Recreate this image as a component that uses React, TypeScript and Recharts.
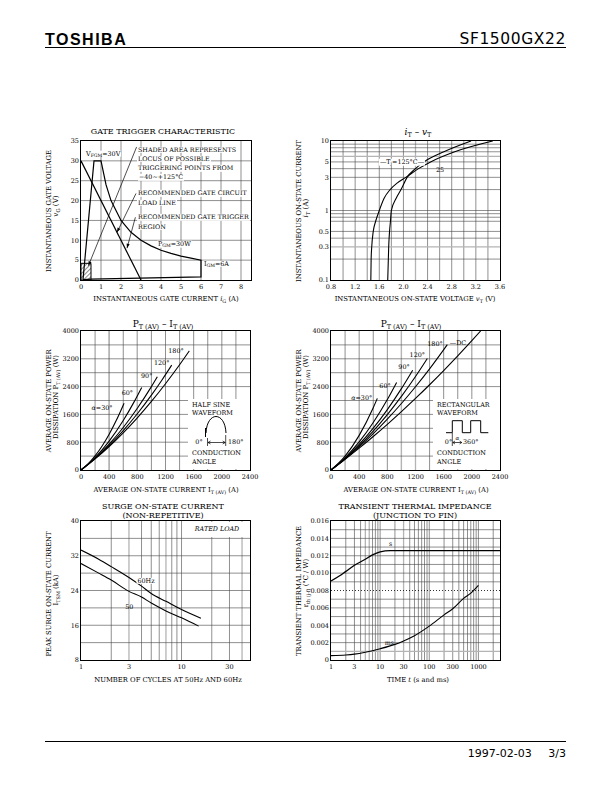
import React from 'react';
import { LineChart, Line, XAxis, YAxis, ReferenceLine, ReferenceArea, ReferenceDot } from 'recharts';

const SERIF = '"DejaVu Serif", "Liberation Serif", serif';
const SANS = '"DejaVu Sans", "Liberation Sans", sans-serif';
const GRID = '#444';
const GRAY = '#b4b4b4';

// ---------- 1. Gate trigger characteristic ----------
const gateXTicks = [0, 1, 2, 3, 4, 5, 6, 7, 8];
const gateYTicks = [0, 5, 10, 15, 20, 25, 30, 35];
const gateGridX = [1, 2, 3, 4, 5, 6, 7, 8];
const gateGridY = [5, 10, 15, 20, 25, 30];
const gateBoundary = [
  { x: 0.1, y: 0.1 }, { x: 0.65, y: 30 }, { x: 1.0, y: 30 }, { x: 1.25, y: 24 }, { x: 1.5, y: 20 },
  { x: 2.0, y: 15 }, { x: 2.5, y: 12 }, { x: 3.0, y: 10 }, { x: 3.5, y: 8.6 }, { x: 4.0, y: 7.5 },
  { x: 4.5, y: 6.7 }, { x: 5.0, y: 6.0 }, { x: 5.5, y: 5.5 }, { x: 6.0, y: 5.0 }, { x: 6.0, y: 0.8 },
  { x: 0.5, y: 0.2 }, { x: 0.1, y: 0.1 },
];
const gateLoadLine = [{ x: 0, y: 30 }, { x: 3, y: 0 }];
const gateLeaders = [
  [{ x: 2.78, y: 33.5 }, { x: 0.37, y: 3.6 }],
  [{ x: 2.75, y: 21.8 }, { x: 1.8, y: 12 }],
  [{ x: 2.72, y: 15.8 }, { x: 2.3, y: 8 }],
];
const gateArrowAngles = [112, 116, 105];

// ---------- 2. iT - vT ----------
const ivXTicks = [0.8, 1.2, 1.6, 2.0, 2.4, 2.8, 3.2, 3.6];
const ivYTicks = [0.1, 0.3, 0.5, 1, 3, 5, 10];
const ivGridX = [1.0, 1.2, 1.4, 1.6, 1.8, 2.0, 2.4, 2.6, 2.8, 3.0, 3.2, 3.4];
const ivGrayX = [2.2];
const ivGridY = [0.2, 0.4, 0.5, 0.7, 0.8, 0.9, 1, 2, 3, 4, 5, 7, 8, 9];
const ivGrayY = [0.3, 6];
const ivCurveA = [
  { x: 1.46, y: 0.1 }, { x: 1.465, y: 0.2 }, { x: 1.475, y: 0.3 }, { x: 1.5, y: 0.5 }, { x: 1.54, y: 0.7 },
  { x: 1.6, y: 1.0 }, { x: 1.68, y: 1.5 }, { x: 1.78, y: 2.0 }, { x: 1.9, y: 2.5 }, { x: 2.04, y: 3.0 },
  { x: 2.25, y: 4.0 }, { x: 2.45, y: 5.0 }, { x: 2.85, y: 7.0 }, { x: 3.48, y: 10 },
];
const ivCurveB = [
  { x: 1.74, y: 0.1 }, { x: 1.75, y: 0.2 }, { x: 1.756, y: 0.3 }, { x: 1.77, y: 0.5 }, { x: 1.785, y: 0.7 },
  { x: 1.8, y: 1.0 }, { x: 1.88, y: 1.5 }, { x: 1.96, y: 2.0 }, { x: 2.06, y: 3.0 }, { x: 2.2, y: 4.0 },
  { x: 2.34, y: 5.0 }, { x: 2.67, y: 7.0 }, { x: 3.12, y: 10 },
];

// ---------- 3./4. PT(AV) - IT(AV) ----------
const pXTicks = [0, 400, 800, 1200, 1600, 2000, 2400];
const pYTicks = [0, 800, 1600, 2400, 3200, 4000];
const pGridX = [200, 400, 600, 800, 1000, 1200, 1400, 1600, 1800, 2000, 2200];
const pGridY = [400, 800, 1200, 1600, 2000, 2400, 2800, 3200, 3600];
const sineGrayX = [400, 800];
const rectGrayX = [1000, 1200];
const sine30 = [{ x: 0, y: 0 }, { x: 100, y: 177 }, { x: 200, y: 408 }, { x: 300, y: 692 }, { x: 400, y: 1030 }, { x: 500, y: 1422 }, { x: 611, y: 1919 }];
const sine60 = [{ x: 0, y: 0 }, { x: 200, y: 358 }, { x: 400, y: 833 }, { x: 600, y: 1425 }, { x: 750, y: 1946 }, { x: 862, y: 2377 }];
const sine90 = [{ x: 0, y: 0 }, { x: 200, y: 336 }, { x: 400, y: 744 }, { x: 600, y: 1224 }, { x: 800, y: 1776 }, { x: 1000, y: 2400 }, { x: 1084, y: 2683 }];
const sine120 = [{ x: 0, y: 0 }, { x: 200, y: 326 }, { x: 400, y: 705 }, { x: 600, y: 1135 }, { x: 800, y: 1619 }, { x: 1000, y: 2154 }, { x: 1150, y: 2590 }, { x: 1288, y: 3017 }];
const sine180 = [{ x: 0, y: 0 }, { x: 200, y: 319 }, { x: 400, y: 676 }, { x: 600, y: 1071 }, { x: 800, y: 1503 }, { x: 1000, y: 1974 }, { x: 1200, y: 2483 }, { x: 1400, y: 3029 }, { x: 1538, y: 3427 }];
const rect30 = [{ x: 0, y: 0 }, { x: 200, y: 399 }, { x: 400, y: 997 }, { x: 600, y: 1794 }, { x: 658, y: 2062 }];
const rect60 = [{ x: 0, y: 0 }, { x: 200, y: 352 }, { x: 400, y: 807 }, { x: 600, y: 1365 }, { x: 800, y: 2027 }, { x: 932, y: 2520 }];
const rect90 = [{ x: 0, y: 0 }, { x: 200, y: 334 }, { x: 400, y: 735 }, { x: 600, y: 1203 }, { x: 800, y: 1739 }, { x: 1000, y: 2342 }, { x: 1160, y: 2873 }];
const rect120 = [{ x: 0, y: 0 }, { x: 200, y: 325 }, { x: 400, y: 699 }, { x: 600, y: 1122 }, { x: 800, y: 1596 }, { x: 1000, y: 2118 }, { x: 1200, y: 2690 }, { x: 1368, y: 3208 }];
const rect180 = [{ x: 0, y: 0 }, { x: 200, y: 317 }, { x: 400, y: 666 }, { x: 600, y: 1049 }, { x: 800, y: 1465 }, { x: 1000, y: 1914 }, { x: 1200, y: 2396 }, { x: 1400, y: 2911 }, { x: 1652, y: 3609 }];
const rectDC = [{ x: 0, y: 0 }, { x: 200, y: 307 }, { x: 400, y: 629 }, { x: 600, y: 965 }, { x: 800, y: 1315 }, { x: 1000, y: 1680 }, { x: 1200, y: 2059 }, { x: 1400, y: 2453 }, { x: 1600, y: 2861 }, { x: 1800, y: 3283 }, { x: 2000, y: 3720 }, { x: 2125, y: 4000 }];

// ---------- 5. Surge on-state current ----------
const sXTicks = [1, 3, 10, 30];
const sYTicks = [8, 16, 24, 32, 40];
const sGridX = [2, 4, 5, 6, 8, 9, 10, 20, 30];
const sGrayX = [3, 7, 40];
const sGridY = [12, 16, 20, 24, 28, 32, 36];
const surge60 = [{ x: 1, y: 33.3 }, { x: 1.5, y: 31.2 }, { x: 2, y: 29.5 }, { x: 3, y: 27.0 }, { x: 4, y: 25.0 }, { x: 5, y: 23.3 }, { x: 7, y: 21.5 }, { x: 10, y: 19.6 }, { x: 15.6, y: 17.6 }];
const surge50 = [{ x: 1, y: 30.2 }, { x: 1.5, y: 28.0 }, { x: 2, y: 26.4 }, { x: 3, y: 23.8 }, { x: 4, y: 22.5 }, { x: 5, y: 21.1 }, { x: 7, y: 19.3 }, { x: 10, y: 17.7 }, { x: 14.8, y: 15.8 }];

// ---------- 6. Transient thermal impedance ----------
const tXTicks = [1, 3, 10, 30, 100, 300, 1000];
const tYTicks = [0, 0.002, 0.004, 0.006, 0.008, 0.01, 0.012, 0.014, 0.016];
const tGridX = [2, 3, 4, 7, 8, 9, 10, 20, 40, 50, 60, 70, 80, 90, 100, 200, 300, 400, 500, 600, 700, 800, 900, 1000, 2000];
const tGrayX = [5, 6, 30];
const tGridY = [0.002, 0.003, 0.004, 0.005, 0.006, 0.007, 0.009, 0.01, 0.011, 0.012, 0.013, 0.014, 0.015];
const tGrayY = [0.001];
const thermS = [{ x: 1, y: 0.0091 }, { x: 1.5, y: 0.0097 }, { x: 2, y: 0.0102 }, { x: 3, y: 0.0109 }, { x: 5, y: 0.0116 }, { x: 7, y: 0.0121 }, { x: 10, y: 0.01245 }, { x: 16, y: 0.0126 }, { x: 2750, y: 0.0126 }];
const thermMs = [{ x: 1, y: 0.0005 }, { x: 2, y: 0.00058 }, { x: 3, y: 0.00068 }, { x: 5, y: 0.0009 }, { x: 10, y: 0.0013 }, { x: 20, y: 0.0018 }, { x: 30, y: 0.0022 }, { x: 50, y: 0.0028 }, { x: 100, y: 0.0039 }, { x: 200, y: 0.0052 }, { x: 300, y: 0.0059 }, { x: 500, y: 0.0071 }, { x: 700, y: 0.0077 }, { x: 1000, y: 0.0086 }];

// ---------- layout ----------
const ML = 40, MT = 6, MR = 16, MB = 16;
const F1 = { l: 81, t: 141, w: 170, h: 139 };
const F2 = { l: 331, t: 141, w: 169, h: 139 };
const F3 = { l: 81, t: 331, w: 169, h: 139 };
const F4 = { l: 331, t: 331, w: 169, h: 139 };
const F5 = { l: 81, t: 521, w: 169, h: 139 };
const F6 = { l: 331, t: 521, w: 169, h: 139 };

const tick = { fontSize: 6.5, fill: '#000', fontFamily: SERIF };
const AX = 6.8; // axis title size
const AN = 6.4; // annotation size

function Plot({ f, xd, yd, xt, yt, xs = 'linear', ys = 'linear', xf, yf, children }: any) {
  return (
    <div style={{ position: 'absolute', left: f.l - ML, top: f.t - MT }}>
      <LineChart width={f.w + ML + MR} height={f.h + MT + MB} margin={{ top: MT, right: MR, bottom: 0, left: 0 }}>
        <XAxis type="number" dataKey="x" scale={xs} domain={xd} ticks={xt} interval={0} allowDataOverflow height={MB}
          tickLine={false} axisLine={false} tickSize={4} tickMargin={0} tick={tick} tickFormatter={xf} />
        <YAxis type="number" scale={ys} domain={yd} ticks={yt} interval={0} allowDataOverflow width={ML}
          tickLine={false} axisLine={false} tickSize={2} tickMargin={0} tick={tick} tickFormatter={yf} />
        {children}
      </LineChart>
    </div>
  );
}

const vl = (xs: number[], c = GRID, w = 0.6) => xs.map((v) => <ReferenceLine key={'v' + v + c} x={v} stroke={c} strokeWidth={w} ifOverflow="hidden" />);
const hl = (ys: number[], c = GRID, w = 0.6, dash?: string) => ys.map((v) => <ReferenceLine key={'h' + v + c} y={v} stroke={c} strokeWidth={w} strokeDasharray={dash} ifOverflow="hidden" />);
const curve = (d: any[], key: string, type: any = 'monotone', w = 1.1) => (
  <Line key={key} data={d} dataKey="y" type={type} stroke="#000" strokeWidth={w} dot={false} activeDot={false} isAnimationActive={false} />
);
const arrowShape = (angle: number) => (p: any) => (
  <path d="M0,0 L-4.5,-1.6 L-4.5,1.6 Z" fill="#000" transform={`translate(${p.cx},${p.cy}) rotate(${angle})`} />
);

const Sub = ({ children }: any) => <span style={{ fontSize: '0.72em', position: 'relative', top: '0.32em' }}>{children}</span>;
const It = ({ children }: any) => <span style={{ fontStyle: 'italic' }}>{children}</span>;

function T({ x, y, size = AN, anchor = 'middle', rot, bg, children, family = SERIF, weight, spacing, italic }: any) {
  const tx = anchor === 'middle' ? '-50%' : anchor === 'end' ? '-100%' : '0';
  return (
    <div style={{
      position: 'absolute', left: x, top: y, fontFamily: family, fontSize: size, lineHeight: 1, whiteSpace: 'nowrap',
      transform: `translate(${tx},-50%)${rot ? ' rotate(-90deg)' : ''}`, background: bg ? '#fff' : undefined,
      padding: bg ? '0 1px' : undefined, color: '#000', fontWeight: weight, letterSpacing: spacing, fontStyle: italic ? 'italic' : undefined,
    }}>{children}</div>
  );
}

const Frame = ({ f }: any) => (
  <div style={{ position: 'absolute', left: f.l - 0.6, top: f.t - 0.6, width: f.w + 1.2, height: f.h + 1.2, border: '1.2px solid #000', boxSizing: 'border-box' }} />
);
const White = ({ l, t, r, b }: any) => <div style={{ position: 'absolute', left: l, top: t, width: r - l, height: b - t, background: '#fff' }} />;

const fmt1 = (v: number) => v.toFixed(1);
const fmtT = (v: number) => (v === 0 ? '0' : v.toFixed(3));

export default function App() {
  return (
    <div style={{ position: 'absolute', left: 0, top: 0, width: 612, height: 792, background: '#fff', overflow: 'hidden' }}>
      <svg width={0} height={0} style={{ position: 'absolute' }}>
        <defs>
          <pattern id="hatch" width="3" height="3" patternUnits="userSpaceOnUse" patternTransform="rotate(45)">
            <line x1="0" y1="0" x2="0" y2="3" stroke="#000" strokeWidth="0.9" />
          </pattern>
        </defs>
      </svg>

      {/* header */}
      <T x={45} y={40} anchor="start" family='"Liberation Sans", sans-serif' size={16} weight={900} spacing={1.5}>TOSHIBA</T>
      <T x={566} y={40} anchor="end" family={SANS} size={15.5} spacing={0.6}>SF1500GX22</T>
      <div style={{ position: 'absolute', left: 45, top: 46.5, width: 521, height: 1.3, background: '#000' }} />

      {/* 1. gate trigger */}
      <Plot f={F1} xd={[0, 8.5]} yd={[0, 35]} xt={gateXTicks} yt={gateYTicks}>
        {vl(gateGridX)}
        {hl(gateGridY)}
        <ReferenceArea x1={0} x2={0.5} y1={0} y2={4.2} fill="url(#hatch)" fillOpacity={1} stroke="#000" strokeWidth={1} />
        {curve(gateBoundary, 'gb', 'linear', 1.2)}
        {curve(gateLoadLine, 'gl', 'linear', 1.2)}
        {gateLeaders.map((s, i) => (
          <ReferenceLine key={'ld' + i} segment={s} stroke="#000" strokeWidth={0.7} ifOverflow="visible" />
        ))}
        {gateLeaders.map((s, i) => (
          <ReferenceDot key={'ar' + i} x={s[1].x} y={s[1].y} r={2} ifOverflow="visible" shape={arrowShape(gateArrowAngles[i])} />
        ))}
      </Plot>

      {/* 2. iT - vT */}
      <Plot f={F2} xd={[0.8, 3.6]} yd={[0.1, 10]} ys="log" xt={ivXTicks} yt={ivYTicks} xf={fmt1}>
        {vl(ivGridX)}
        {vl(ivGrayX, GRAY, 1.3)}
        {hl(ivGridY)}
        {hl(ivGrayY, GRAY, 1.3)}
        {curve(ivCurveA, 'ivA')}
        {curve(ivCurveB, 'ivB')}
      </Plot>

      {/* 3. sine */}
      <Plot f={F3} xd={[0, 2400]} yd={[0, 4000]} xt={pXTicks} yt={pYTicks}>
        {vl(pGridX)}
        {vl(sineGrayX, GRAY, 1.3)}
        {hl(pGridY)}
        {curve(sine30, 's30')}
        {curve(sine60, 's60')}
        {curve(sine90, 's90')}
        {curve(sine120, 's120')}
        {curve(sine180, 's180')}
      </Plot>

      {/* 4. rect */}
      <Plot f={F4} xd={[0, 2400]} yd={[0, 4000]} xt={pXTicks} yt={pYTicks}>
        {vl(pGridX)}
        {vl(rectGrayX, GRAY, 1.3)}
        {hl(pGridY)}
        {curve(rect30, 'r30')}
        {curve(rect60, 'r60')}
        {curve(rect90, 'r90')}
        {curve(rect120, 'r120')}
        {curve(rect180, 'r180')}
        {curve(rectDC, 'rdc')}
      </Plot>

      {/* 5. surge */}
      <Plot f={F5} xd={[1, 48]} yd={[8, 40]} xs="log" xt={sXTicks} yt={sYTicks}>
        {vl(sGridX)}
        {vl(sGrayX, GRAY, 1.3)}
        {hl(sGridY)}
        {curve(surge60, 'su60')}
        {curve(surge50, 'su50')}
      </Plot>

      {/* 6. thermal */}
      <Plot f={F6} xd={[1, 2750]} yd={[0, 0.016]} xs="log" xt={tXTicks} yt={tYTicks} yf={fmtT}>
        {vl(tGridX)}
        {vl(tGrayX, GRAY, 1.3)}
        {hl(tGridY)}
        {hl(tGrayY, GRAY, 1.3)}
        {hl([0.008], '#000', 0.8, '1 2')}
        {curve(thermS, 'ts', 'monotone', 1.3)}
        {curve(thermMs, 'tms')}
      </Plot>

      {/* white boxes */}
      <White l={188} t={399} r={250} b={469} />
      <White l={433} t={399} r={500} b={469} />
      <White l={187} t={521.5} r={250} b={536.5} />

      <Frame f={F1} />
      <Frame f={F2} />
      <Frame f={F3} />
      <Frame f={F4} />
      <Frame f={F5} />
      <Frame f={F6} />

      {/* inset drawings */}
      <svg width={612} height={792} style={{ position: 'absolute', left: 0, top: 0, pointerEvents: 'none' }}>
        <g stroke="#000" fill="none" strokeWidth={1}>
          <path d="M206,433 C207,411 225,411 226,433" />
          <line x1={205.5} y1={428} x2={205.5} y2={437} />
          <line x1={207.5} y1={438} x2={207.5} y2={446} strokeWidth={0.7} />
          <line x1={225.7} y1={435} x2={225.7} y2={446} strokeWidth={0.7} />
          <line x1={208} y1={442.5} x2={225.2} y2={442.5} strokeWidth={0.7} />
          <path d="M210.5,441 L208,442.5 L210.5,444 M222.7,441 L225.2,442.5 L222.7,444" strokeWidth={0.7} />
          <polyline points="446,432.7 452.3,432.7 452.3,420.7 462.3,420.7 462.3,432.7 470.7,432.7 470.7,420.7 480.7,420.7 480.7,432.7 488.3,432.7" />
          <line x1={452.3} y1={433} x2={452.3} y2={446} strokeWidth={0.7} />
          <line x1={452.8} y1={442.5} x2={461.8} y2={442.5} strokeWidth={0.7} />
          <path d="M455,441 L452.8,442.5 L455,444 M459.6,441 L461.8,442.5 L459.6,444" strokeWidth={0.7} />
        </g>
      </svg>

      {/* texts: chart 1 */}
      <T x={163} y={131.5} size={8}>GATE TRIGGER CHARACTERISTIC</T>
      <T x={48.5} y={211} rot size={AX}>INSTANTANEOUS GATE VOLTAGE</T>
      <T x={56} y={206} rot size={7.2}><It>v</It><Sub>G</Sub>{'  '}(V)</T>
      <T x={166} y={299} size={AX}>INSTANTANEOUS GATE CURRENT{'  '}<It>i</It><Sub>G</Sub>{'  '}(A)</T>
      <T x={85} y={153.5} anchor="start" bg>V<Sub>FGM</Sub>=30V</T>
      <T x={137} y={149.5} anchor="start" bg size={6.35}>SHADED AREA REPRESENTS</T>
      <T x={137} y={159} anchor="start" bg size={6.35}>LOCUS OF POSSIBLE</T>
      <T x={137} y={168.3} anchor="start" bg size={6.35}>TRIGGERING POINTS FROM</T>
      <T x={138} y={177.3} anchor="start" bg size={6.35}>−40~+125°C</T>
      <T x={137} y={193.3} anchor="start" bg size={6.35}>RECOMMENDED GATE CIRCUIT</T>
      <T x={137} y={202.7} anchor="start" bg size={6.35}>LOAD LINE</T>
      <T x={137} y={217.3} anchor="start" bg size={6.35}>RECOMMENDED GATE TRIGGER</T>
      <T x={137} y={226.7} anchor="start" bg size={6.35}>REGION</T>
      <T x={157} y={244} anchor="start" bg>P<Sub>GM</Sub>=30W</T>
      <T x={203} y={263.5} anchor="start" bg>I<Sub>GM</Sub>=6A</T>

      {/* chart 2 */}
      <T x={418} y={131.5} size={9}><It>i</It><Sub>T</Sub> – <It>v</It><Sub>T</Sub></T>
      <T x={298.5} y={211} rot size={AX}>INSTANTANEOUS ON-STATE CURRENT</T>
      <T x={306} y={208} rot size={7.2}><It>i</It><Sub>T</Sub>{'  '}(A)</T>
      <T x={415} y={299} size={AX}>INSTANTANEOUS ON-STATE VOLTAGE{'  '}<It>v</It><Sub>T</Sub>{'  '}(V)</T>
      <T x={402} y={162} bg>—T<Sub>j</Sub>=125°C—</T>
      <T x={440} y={170}>25</T>

      {/* chart 3 */}
      <T x={163} y={323.5} size={9}>P<Sub>T (AV)</Sub> – I<Sub>T (AV)</Sub></T>
      <T x={48.5} y={401} rot size={AX}>AVERAGE ON-STATE POWER</T>
      <T x={56} y={397} rot size={AX}>DISSIPATION{'  '}P<Sub>T (AV)</Sub>{'  '}(W)</T>
      <T x={166} y={490} size={AX}>AVERAGE ON-STATE CURRENT{'  '}I<Sub>T (AV)</Sub>{'  '}(A)</T>
      <T x={102} y={408.3}><It>α</It>=30°</T>
      <T x={127.3} y={393.3}>60°</T>
      <T x={146.7} y={375.7}>90°</T>
      <T x={161.7} y={362.7}>120°</T>
      <T x={176} y={350.7}>180°</T>
      <T x={192} y={405} anchor="start">HALF SINE</T>
      <T x={192} y={413.3} anchor="start">WAVEFORM</T>
      <T x={199} y={441.7}>0°</T>
      <T x={228} y={441.7} anchor="start">180°</T>
      <T x={192} y={453.3} anchor="start">CONDUCTION</T>
      <T x={192} y={461.5} anchor="start">ANGLE</T>

      {/* chart 4 */}
      <T x={411} y={323.5} size={9}>P<Sub>T (AV)</Sub> – I<Sub>T (AV)</Sub></T>
      <T x={298.5} y={401} rot size={AX}>AVERAGE ON-STATE POWER</T>
      <T x={306} y={397} rot size={AX}>DISSIPATION{'  '}P<Sub>T (AV)</Sub>{'  '}(W)</T>
      <T x={416} y={490} size={AX}>AVERAGE ON-STATE CURRENT{'  '}I<Sub>T (AV)</Sub>{'  '}(A)</T>
      <T x={361.7} y={398.3}><It>α</It>=30°</T>
      <T x={385} y={386}>60°</T>
      <T x={404} y={367.3}>90°</T>
      <T x={417.3} y={355.3}>120°</T>
      <T x={435} y={344}>180°</T>
      <T x={458} y={343.3}>—DC</T>
      <T x={437} y={405} anchor="start">RECTANGULAR</T>
      <T x={437} y={413.3} anchor="start">WAVEFORM</T>
      <T x={448.5} y={442.3}>0°</T>
      <T x={457.3} y={438.8} size={5.5}><It>α</It></T>
      <T x={463} y={442.3} anchor="start">360°</T>
      <T x={437} y={453.3} anchor="start">CONDUCTION</T>
      <T x={437} y={461.5} anchor="start">ANGLE</T>

      {/* chart 5 */}
      <T x={163} y={507} size={8}>SURGE ON-STATE CURRENT</T>
      <T x={163} y={515.5} size={8}>(NON-REPETITIVE)</T>
      <T x={48.5} y={594} rot size={AX}>PEAK SURGE ON-STATE CURRENT</T>
      <T x={56} y={590} rot size={AX}>I<Sub>TSM</Sub>{'  '}(kA)</T>
      <T x={168} y={680} size={AX}>NUMBER OF CYCLES AT 50Hz AND 60Hz</T>
      <T x={146} y={581} bg>60Hz</T>
      <T x={129.3} y={607.3}>50</T>
      <T x={217} y={529.3} italic>RATED LOAD</T>

      {/* chart 6 */}
      <T x={415} y={507} size={8}>TRANSIENT THERMAL IMPEDANCE</T>
      <T x={415} y={515.5} size={8}>(JUNCTION TO FIN)</T>
      <T x={298.5} y={591} rot size={AX}>TRANSIENT THERMAL IMPEDANCE</T>
      <T x={306} y={583} rot size={AX}>r<Sub>th (j-f)</Sub>{'  '}(°C / W)</T>
      <T x={418} y={680} size={AX}>TIME{'  '}<It>t</It>{'  '}(s and ms)</T>
      <T x={390.7} y={544.3}>s</T>
      <T x={389.3} y={642.7}>ms</T>

      {/* footer */}
      <div style={{ position: 'absolute', left: 45, top: 741, width: 521, height: 1.3, background: '#000' }} />
      <T x={566} y={752.5} anchor="end" family={SANS} size={11}>1997-02-03{'\u2003\u2002'}3/3</T>
    </div>
  );
}
